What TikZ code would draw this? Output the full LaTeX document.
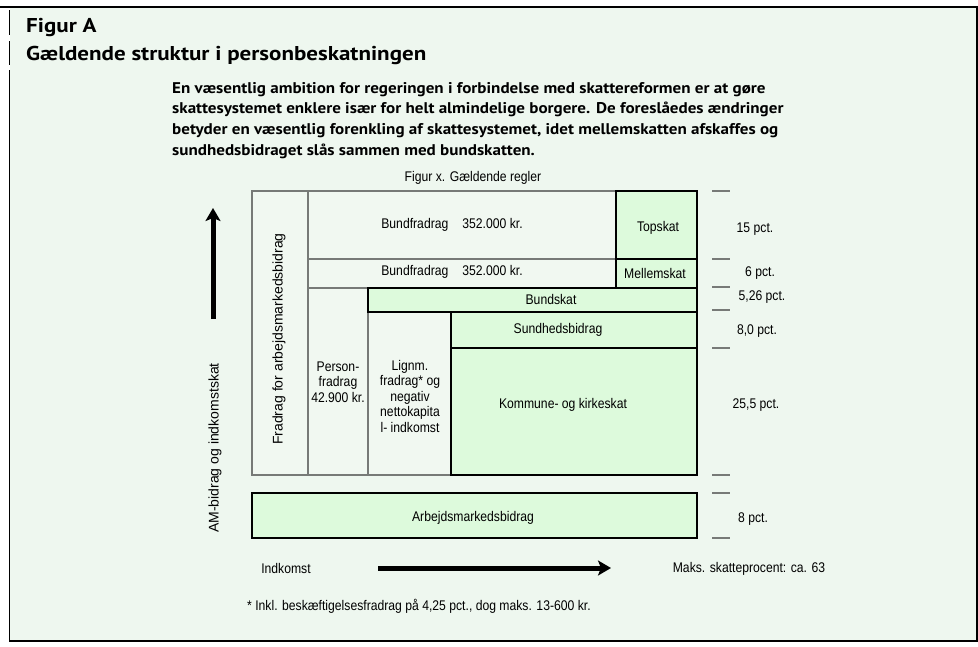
\documentclass[tikz,border=0pt]{standalone}
\usepackage{fontspec}
\setmainfont{Liberation Sans}
\newfontfamily\chartfont[FakeStretch=0.87]{Liberation Sans}
\newfontfamily\headfont[FakeStretch=1.15]{PT Sans}
\newfontfamily\introfont[FakeStretch=1.1]{PT Sans}
\usetikzlibrary{arrows.meta,positioning}
\definecolor{bgmint}{HTML}{EEF7EF}
\definecolor{paleface}{HTML}{F1F8F1}
\definecolor{greenface}{HTML}{DDFADC}
\definecolor{lineg}{HTML}{777A77}
\tikzset{plainbox/.style={
    rectangle,anchor=north west,inner sep=0pt,outer sep=0pt,
    draw=lineg,line width=1.4pt,fill=paleface}}
\tikzset{greenbox/.style={
    rectangle,anchor=north west,inner sep=0pt,outer sep=0pt,
    draw=black,line width=1.5pt,fill=greenface}}
\tikzset{lbl/.style={inner sep=0pt,align=center,
    font=\chartfont\fontsize{14}{15.5}\selectfont}}
\tikzset{sidelbl/.style={inner sep=0pt,rotate=90,
    font=\fontsize{14}{15.5}\selectfont}}
\tikzset{tick/.style={draw=lineg,line width=1.5pt}}
\tikzset{bigarrow/.style={line width=5pt,-{Stealth[length=13pt,width=15pt,inset=3pt]}}}
\tikzset{every picture/.style={x=1pt,y=-1pt}}

\begin{document}
\begin{tikzpicture}

  \useasboundingbox (0,0) rectangle (978,646);
  \fill[white] (0,0) rectangle (978,646);
  \fill[bgmint] (9.5,7) rectangle (977,641);
  \draw[line width=1.5pt] (0,7) -- (977,7) -- (977,641) -- (9.5,641) -- (9.5,70);
  \draw[line width=1.5pt] (9.5,10) -- (9.5,35) (9.5,41) -- (9.5,65);

  % heading
  \node (figa)  [anchor=base west,inner sep=0pt,font=\headfont\bfseries\fontsize{20}{22}\selectfont] at (26,32.7) {Figur A};
  \node (title) [anchor=base west,inner sep=0pt,font=\headfont\bfseries\fontsize{20}{22}\selectfont] at (26,60) {Gældende struktur i personbeskatningen};
  \node (intro) [anchor=north west,inner sep=0pt,align=left,font=\introfont\bfseries\fontsize{15.5}{20.7}\selectfont] at (172,82)
    {En væsentlig ambition for regeringen i forbindelse med skattereformen er at gøre\\
     skattesystemet enklere især for helt almindelige borgere. De foreslåedes ændringer\\
     betyder en væsentlig forenkling af skattesystemet, idet mellemskatten afskaffes og\\
     sundhedsbidraget slås sammen med bundskatten.};
  \node (subttl) [lbl] at (473,178) {Figur x. Gældende regler};

  % boxes
  \node (frad)     [plainbox,minimum width=56pt,minimum height=284pt]  at (252,191) {};
  \node (bund1)    [plainbox,minimum width=308pt,minimum height=68pt]  at (308,191) {};
  \node (bund2)    [plainbox,minimum width=308pt,minimum height=29pt]  at (308,259) {};
  \node (person)   [plainbox,minimum width=60pt,minimum height=187pt]  at (308,288) {};
  \node (lignm)    [plainbox,minimum width=83pt,minimum height=163pt]  at (368,312) {};
  \node (topskat)  [greenbox,minimum width=81pt,minimum height=68pt]   at (616,191) {};
  \node (mellem)   [greenbox,minimum width=81pt,minimum height=29pt]   at (616,259) {};
  \node (bundskat) [greenbox,minimum width=329pt,minimum height=24pt]  at (368,288) {};
  \node (sundhed)  [greenbox,minimum width=246pt,minimum height=36pt]  at (451,312) {};
  \node (kommune)  [greenbox,minimum width=246pt,minimum height=127pt] at (451,348) {};
  \node (amb)      [greenbox,minimum width=445pt,minimum height=45pt]  at (252,493) {};

  % box texts
  \node (tfrad)   [sidelbl] at (279,339) {Fradrag for arbejdsmarkedsbidrag};
  \node (tbund1)  [lbl] at (452,225) {Bundfradrag\quad 352.000 kr.};
  \node (tbund2)  [lbl] at (452,272) {Bundfradrag\quad 352.000 kr.};
  \node (tperson) [lbl] at (338,382) {Person-\\fradrag\\42.900 kr.};
  \node (tlignm)  [lbl] at (410,396) {Lignm.\\fradrag* og\\negativ\\nettokapita\\l- indkomst};
  \node (ttop)    [lbl] at (658,228) {Topskat};
  \node (tmellem) [lbl] at (655,273) {Mellemskat};
  \node (tbundsk) [lbl] at (551,299) {Bundskat};
  \node (tsund)   [lbl] at (558,330) {Sundhedsbidrag};
  \node (tkomm)   [lbl] at (563,405) {Kommune- og kirkeskat};
  \node (tamb)    [lbl] at (473,518) {Arbejdsmarkedsbidrag};

  % rates
  \foreach \yy in {191,259,287,310,348,475,493,538}
    \draw[tick] (712,\yy) -- (730,\yy);
  \node (p15)  [lbl] at (755,229) {15 pct.};
  \node (p6)   [lbl] at (760,273) {6 pct.};
  \node (p526) [lbl] at (762,297) {5,26 pct.};
  \node (p80)  [lbl] at (757,331) {8,0 pct.};
  \node (p255) [lbl] at (756,405) {25,5 pct.};
  \node (p8)   [lbl] at (753,519) {8 pct.};

  % axes
  \node (amtxt)  [sidelbl] at (215,448) {AM-bidrag og indkomstskat};
  \coordinate (upa) at (213,319);
  \coordinate (upb) at (213,208);
  \draw[bigarrow] (upa) -- (upb);
  \node (indk)   [lbl] at (286,568) {Indkomst};
  \node (maks)   [lbl] at (749,569) {Maks. skatteprocent: ca. 63};
  \coordinate (ria) at (378,568);
  \coordinate (rib) at (611,568);
  \draw[bigarrow] (ria) -- (rib);
  \node (fodn)   [lbl,anchor=west] at (247,606) {* Inkl. beskæftigelsesfradrag på 4,25 pct., dog maks. 13-600 kr.};

\end{tikzpicture}
\end{document}
